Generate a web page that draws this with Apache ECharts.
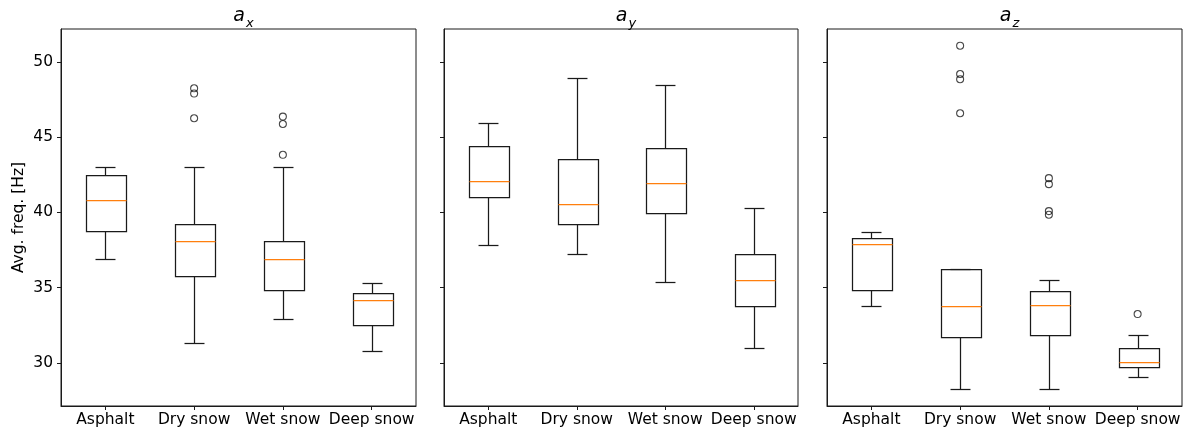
<!DOCTYPE html>
<html>
<head>
<meta charset="utf-8">
<script src="https://cdn.jsdelivr.net/npm/echarts@6/dist/echarts.min.js"></script>
<style>
html,body{margin:0;padding:0;background:#fff;}
#chart{width:1190px;height:438px;}
</style>
</head>
<body>
<div id="chart"></div>
<script>
// ---- data ----
const categories = ['Asphalt', 'Dry snow', 'Wet snow', 'Deep snow'];
const panelTitles = ['x', 'y', 'z']; // subscripts of a
const yTicks = [30, 35, 40, 45, 50];
const yName = 'Avg. freq. [Hz]';
// box stats per category: [lower whisker, Q1, median, Q3, upper whisker]
const axStats = [
  [36.92, 38.78, 40.82, 42.48, 42.99],
  [31.35, 35.77, 38.12, 39.20, 42.99],
  [32.94, 34.85, 36.92, 38.12, 42.99],
  [30.80, 32.54, 34.18, 34.65, 35.33]
];
const ayStats = [
  [37.81, 41.06, 42.08, 44.40, 45.95],
  [37.26, 39.23, 40.58, 43.52, 48.92],
  [35.40, 39.98, 41.97, 44.25, 48.45],
  [31.00, 33.81, 35.51, 37.26, 40.27]
];
const azStats = [
  [33.81, 34.85, 37.92, 38.32, 38.67],
  [28.30, 31.73, 33.81, 36.22, 36.26],
  [28.30, 31.84, 33.85, 34.80, 35.51],
  [29.07, 29.71, 30.04, 31.00, 31.84]
];
// outliers: [category index, value]
const axOutliers = [[1, 48.25], [1, 47.90], [1, 46.26], [2, 46.37], [2, 45.88], [2, 43.83]];
const ayOutliers = [];
const azOutliers = [[1, 51.08], [1, 49.20], [1, 48.85], [1, 46.59], [2, 42.28], [2, 41.88], [2, 40.09], [2, 39.85], [3, 33.25]];
const yMin = 27.14, yMax = 52.19;

// ---- layout ----
const FONT = 'DejaVu Sans';
const grids = [
  {left: 61, top: 29, width: 355, height: 377},
  {left: 444, top: 29, width: 354, height: 377},
  {left: 827, top: 29, width: 355, height: 377}
];
const statsList = [axStats, ayStats, azStats];
const outlierList = [axOutliers, ayOutliers, azOutliers];
const LINE = '#1a1a1a';

function renderBox(params, api) {
  const x = api.value(0);
  const low = api.value(1), q1 = api.value(2), med = api.value(3), q3 = api.value(4), high = api.value(5);
  const band = api.size([1, 0])[0];
  const bw = Math.round(band * 0.45), cw = band * 0.225;
  const cx = Math.round(api.coord([x, med])[0]) + 0.5;
  const yLow = Math.round(api.coord([x, low])[1]) + 0.5;
  const yQ1 = Math.round(api.coord([x, q1])[1]) + 0.5;
  const yMed = Math.round(api.coord([x, med])[1]) + 0.5;
  const yQ3 = Math.round(api.coord([x, q3])[1]) + 0.5;
  const yHigh = Math.round(api.coord([x, high])[1]) + 0.5;
  const bx = Math.round(cx - bw / 2) + 0.5;
  const ls = {stroke: LINE, lineWidth: 1.25, fill: null};
  return {
    type: 'group',
    children: [
      {type: 'line', shape: {x1: cx, y1: yQ1, x2: cx, y2: yLow}, style: ls},
      {type: 'line', shape: {x1: cx, y1: yQ3, x2: cx, y2: yHigh}, style: ls},
      {type: 'line', shape: {x1: cx - cw / 2, y1: yLow, x2: cx + cw / 2, y2: yLow}, style: ls},
      {type: 'line', shape: {x1: cx - cw / 2, y1: yHigh, x2: cx + cw / 2, y2: yHigh}, style: ls},
      {type: 'rect', shape: {x: bx, y: yQ3, width: bw, height: yQ1 - yQ3}, style: ls},
      {type: 'line', shape: {x1: bx, y1: yMed, x2: bx + bw, y2: yMed}, style: {stroke: '#ff7f0e', lineWidth: 1.25}}
    ]
  };
}

const option = {
  backgroundColor: '#fff',
  animation: false,
  textStyle: {fontFamily: FONT},
  title: grids.map((g, i) => ({
    text: '{a|a}{s|' + panelTitles[i] + '}',
    left: g.left + g.width / 2,
    textAlign: 'center',
    top: 2,
    textStyle: {
      fontWeight: 'normal',
      rich: {
        a: {fontFamily: FONT, fontSize: 19, fontStyle: 'italic', fontWeight: 'normal', color: '#000', lineHeight: 22, verticalAlign: 'top'},
        s: {fontFamily: FONT, fontSize: 13, fontStyle: 'italic', fontWeight: 'normal', color: '#000', lineHeight: 14, padding: [10, 0, 0, 1], verticalAlign: 'top'}
      }
    }
  })),
  grid: grids.map(g => Object.assign({show: true, borderColor: LINE, borderWidth: 1, backgroundColor: 'transparent', containLabel: false}, g)),
  xAxis: grids.map((g, i) => ({
    type: 'category',
    gridIndex: i,
    data: categories,
    boundaryGap: true,
    axisLine: {show: true, lineStyle: {color: LINE, width: 1}},
    axisTick: {show: true, alignWithLabel: true, length: 4, lineStyle: {color: LINE}},
    axisLabel: {fontFamily: FONT, fontSize: 15.5, color: '#000', margin: 6, interval: 0},
    splitLine: {show: false}
  })),
  yAxis: grids.map((g, i) => ({
    type: 'value',
    gridIndex: i,
    min: yMin,
    max: yMax,
    name: i === 0 ? yName : '',
    nameLocation: 'middle',
    nameGap: 34,
    nameTextStyle: {fontFamily: FONT, fontSize: 15.5, color: '#000'},
    axisLine: {show: true, lineStyle: {color: LINE, width: 1}},
    axisTick: {show: true, length: 4, customValues: yTicks, lineStyle: {color: LINE}},
    axisLabel: {show: i === 0, customValues: yTicks, fontFamily: FONT, fontSize: 15.5, color: '#000', margin: 8},
    splitLine: {show: false}
  })),
  series: []
};

statsList.forEach((stats, i) => {
  option.series.push({
    type: 'custom',
    xAxisIndex: i,
    yAxisIndex: i,
    renderItem: renderBox,
    encode: {x: 0, y: [1, 2, 3, 4, 5]},
    data: stats.map((s, k) => [k].concat(s)),
    silent: true
  });
  option.series.push({
    type: 'scatter',
    xAxisIndex: i,
    yAxisIndex: i,
    symbol: 'circle',
    symbolSize: 7,
    itemStyle: {color: 'rgba(0,0,0,0)', borderColor: LINE, borderWidth: 1.1},
    data: outlierList[i].map(o => [o[0], o[1]]),
    silent: true
  });
});

const chart = echarts.init(document.getElementById('chart'), null, {renderer: 'canvas'});
chart.setOption(option);
</script>
</body>
</html>
